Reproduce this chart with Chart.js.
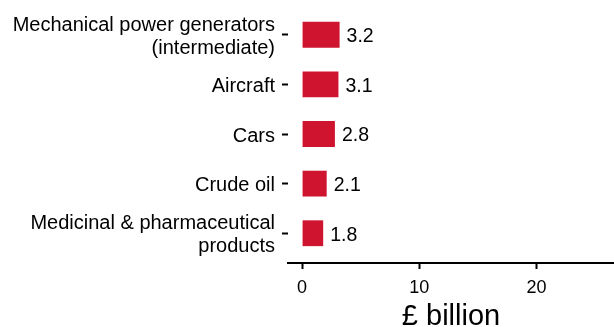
<!DOCTYPE html>
<html>
<head>
<meta charset="utf-8">
<script src="https://cdn.jsdelivr.net/npm/chart.js@4/dist/chart.umd.min.js"></script>
<style>
  html, body { margin: 0; padding: 0; background: #ffffff; }
  #wrap { width: 614px; height: 327px; position: relative; }
</style>
</head>
<body>
<div id="wrap"><canvas id="chart"></canvas></div>
<script>
// Top export goods, £ billion
const categories = [
  ["Mechanical power generators", "(intermediate)"],
  "Aircraft",
  "Cars",
  "Crude oil",
  ["Medicinal & pharmaceutical", "products"]
];
const values = [3.2, 3.1, 2.8, 2.1, 1.8];
const xTickValues = [0, 10, 20];
const xAxisTitle = "£ billion";

const BAR_COLOUR = "#cf1430";
const FONT = "'Liberation Sans', Arial, sans-serif";

// Writes each bar's value just past its end
const valueLabels = {
  id: "valueLabels",
  afterDatasetsDraw(chart) {
    const ctx = chart.ctx;
    const meta = chart.getDatasetMeta(0);
    ctx.save();
    ctx.font = "19.5px " + FONT;
    ctx.fillStyle = "#000";
    ctx.textAlign = "left";
    ctx.textBaseline = "middle";
    meta.data.forEach((bar, i) => {
      ctx.fillText(values[i].toFixed(1), bar.x + 7, bar.y + 2);
    });
    ctx.restore();
  }
};

new Chart(document.getElementById("chart"), {
  type: "bar",
  data: {
    datasets: [{
      data: values.map((v, i) => ({ x: v, y: i })),
      backgroundColor: BAR_COLOUR,
      borderWidth: 0,
      categoryPercentage: 1,
      barPercentage: 0.52
    }]
  },
  options: {
    indexAxis: "y",
    responsive: true,
    maintainAspectRatio: false,
    animation: false,
    layout: { padding: { top: 5, right: 0, left: 0, bottom: 0 } },
    plugins: { legend: { display: false }, tooltip: { enabled: false } },
    scales: {
      y: {
        type: "linear",
        reverse: true,
        offset: false,
        min: -0.6,
        max: 4.6,
        afterBuildTicks: s => { s.ticks = categories.map((c, i) => ({ value: i })); },
        afterFit: s => { s.width = 288; s.paddingTop = 0; s.paddingBottom = 0; },
        border: { display: false },
        grid: {
          offset: false,
          drawOnChartArea: false,
          drawTicks: true,
          tickLength: 6,
          tickWidth: 2,
          tickColor: "#000"
        },
        ticks: {
          autoSkip: false,
          padding: 7,
          labelOffset: 2,
          color: "#000",
          font: { family: FONT, size: 20, lineHeight: 1.15 },
          callback: v => categories[v]
        }
      },
      x: {
        type: "linear",
        min: -1.2,
        max: 26.6,
        afterBuildTicks: s => { s.ticks = xTickValues.map(v => ({ value: v })); },
        afterFit: s => { s.height = 64; s.paddingLeft = 0; s.paddingRight = 0; },
        border: { display: true, color: "#000", width: 2 },
        grid: {
          drawOnChartArea: false,
          drawTicks: true,
          tickLength: 6,
          tickWidth: 2,
          tickColor: "#000"
        },
        ticks: {
          padding: 8,
          color: "#000",
          maxRotation: 0,
          font: { family: FONT, size: 18 },
          callback: v => String(v)
        },
        title: {
          display: true,
          text: xAxisTitle,
          color: "#000",
          font: { family: FONT, size: 29, lineHeight: 1 },
          padding: { top: 0, bottom: -4 }
        }
      }
    }
  },
  plugins: [valueLabels]
});
</script>
</body>
</html>
